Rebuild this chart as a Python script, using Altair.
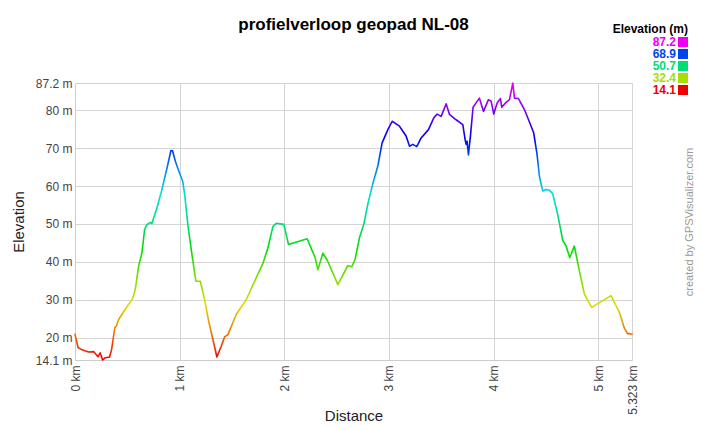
import altair as alt
import pandas as pd

FONT = "Liberation Sans"

title_text = "profielverloop geopad NL-08"
credit_text = "created by GPSVisualizer.com"
x_title = "Distance"
y_title = "Elevation"
legend_title = "Elevation (m)"

distance_km = [
    0.000, 0.029, 0.060, 0.130, 0.180, 0.200, 0.220, 0.240, 0.264, 0.290,
    0.330, 0.350, 0.380, 0.395, 0.417, 0.480, 0.550, 0.576, 0.608, 0.640,
    0.665, 0.687, 0.720, 0.735, 0.783, 0.830, 0.879, 0.917, 0.932, 0.960,
    0.997, 1.030, 1.050, 1.080, 1.120, 1.155, 1.197, 1.238, 1.277, 1.318,
    1.356, 1.397, 1.430, 1.461, 1.541, 1.636, 1.700, 1.796, 1.843, 1.891,
    1.923, 1.996, 2.040, 2.219, 2.296, 2.321, 2.369, 2.410, 2.512, 2.607,
    2.646, 2.677, 2.719, 2.760, 2.798, 2.846, 2.894, 2.935, 2.990, 3.031,
    3.101, 3.164, 3.197, 3.228, 3.266, 3.308, 3.378, 3.429, 3.461, 3.499,
    3.547, 3.579, 3.642, 3.706, 3.728, 3.738, 3.747, 3.760, 3.779, 3.804,
    3.865, 3.904, 3.951, 3.977, 4.002, 4.034, 4.066, 4.078, 4.120, 4.152,
    4.184, 4.200, 4.238, 4.295, 4.359, 4.384, 4.416, 4.438, 4.470, 4.502,
    4.534, 4.565, 4.613, 4.661, 4.693, 4.728, 4.772, 4.820, 4.868, 4.938,
    5.122, 5.202, 5.250, 5.282, 5.300, 5.323,
]
elevation_m = [
    20.9, 17.4, 16.9, 16.2, 16.3, 15.6, 15.0, 16.0, 14.1, 14.7,
    14.9, 16.9, 22.6, 23.1, 24.8, 27.5, 30.3, 32.7, 38.9, 42.4,
    48.5, 49.8, 50.4, 50.1, 54.2, 59.0, 64.7, 69.4, 69.3, 66.5,
    63.6, 61.2, 57.3, 49.4, 41.5, 34.9, 34.9, 30.1, 24.4, 19.5,
    14.9, 17.7, 20.2, 20.8, 26.1, 30.0, 33.9, 39.6, 43.6, 49.3,
    50.2, 49.9, 44.6, 46.1, 41.0, 37.9, 42.3, 40.5, 34.0, 39.0,
    38.7, 40.7, 46.4, 49.9, 55.2, 60.6, 65.3, 71.4, 74.9, 77.1,
    75.8, 73.2, 70.5, 71.0, 70.4, 72.7, 74.9, 78.0, 79.0, 78.4,
    81.7, 78.9, 77.5, 76.2, 72.3, 71.0, 71.8, 68.2, 73.2, 80.8,
    83.2, 79.7, 82.8, 82.4, 79.0, 81.9, 83.1, 80.8, 82.1, 82.8,
    87.2, 83.2, 83.1, 80.2, 75.8, 74.0, 68.3, 62.6, 58.7, 59.1,
    58.9, 58.0, 52.5, 45.7, 44.2, 41.1, 44.2, 37.6, 31.5, 28.0,
    31.1, 26.7, 22.5, 21.0, 21.1, 20.9,
]

x_ticks = [0, 1, 2, 3, 4, 5, 5.323]
y_ticks = [14.1, 20, 30, 40, 50, 60, 70, 80, 87.2]

legend_labels = ["87.2", "68.9", "50.7", "32.4", "14.1"]
legend_colors = ["#ee00ee", "#0044ee", "#00dd77", "#aadd00", "#ee0000"]

gradient_offsets = [0.0, 0.1, 0.2, 0.3, 0.4, 0.5, 0.6, 0.7, 0.8, 0.9, 1.0]
gradient_colors = ["#ee0000", "#ee7700", "#dddd00", "#77dd00", "#00dd00", "#00dd77",
                   "#00dddd", "#0077ee", "#0000ee", "#7700ee", "#ee00ee"]

profile = pd.DataFrame({"distance": distance_km, "elevation": elevation_m})
legend_df = pd.DataFrame({"label": legend_labels})
credit_df = pd.DataFrame({"text": [credit_text]})

W, H = 557, 277

label_color_expr = " : ".join(
    f"datum.label == '{l}' ? '{c}'" for l, c in zip(legend_labels, legend_colors)
) + " : '#000'"

x_enc = alt.X(
    "distance:Q",
    scale=alt.Scale(domain=[0, 5.323], nice=False, zero=False),
    axis=alt.Axis(
        values=x_ticks, labelExpr="datum.value + ' km'", labelAngle=270,
        labelAlign="right", labelBaseline="middle", labelPadding=5,
        labelFont=FONT, labelFontSize=12, labelColor="#444", labelOverlap=False,
        labelFlush=False, ticks=False, domainColor="#cccccc", gridColor="#d4d4d4",
        title=x_title, titleFont=FONT, titleFontSize=15, titleFontWeight="normal",
        titleColor="#222", titleBaseline="middle", titleY=55, titleX=W / 2,
    ),
)
y_enc = alt.Y(
    "elevation:Q",
    scale=alt.Scale(domain=[14.1, 87.2], nice=False, zero=False),
    axis=alt.Axis(
        values=y_ticks, labelExpr="datum.value + ' m'", labelPadding=3,
        labelFont=FONT, labelFontSize=12, labelColor="#444", labelOverlap=False,
        labelFlush=False, ticks=False, domainColor="#cccccc", gridColor="#d4d4d4",
        title=y_title, titleFont=FONT, titleFontSize=15, titleFontWeight="normal",
        titleColor="#222", titleAngle=270, titleBaseline="middle", titleAlign="center",
        titleX=-57, titleY=H / 2,
    ),
)

line = alt.Chart(profile).mark_line(
    strokeWidth=1.6,
    strokeJoin="round",
    strokeCap="round",
    stroke=alt.LinearGradient(
        gradient="linear", x1=0, y1=1, x2=0, y2=0,
        stops=[alt.GradientStop(offset=o, color=c) for o, c in zip(gradient_offsets, gradient_colors)],
    ),
).encode(x=x_enc, y=y_enc)

legend_layer = alt.Chart(legend_df).mark_point(
    shape="square", filled=True, clip=True, opacity=1
).encode(
    x=alt.value(-2000),
    y=alt.value(-2000),
    color=alt.Color(
        "label:N",
        scale=alt.Scale(domain=legend_labels, range=legend_colors),
        legend=alt.Legend(
            title=legend_title, orient="none", legendX=538, legendY=-59,
            titleFont=FONT, titleFontSize=12, titleFontWeight="bold", titleColor="#000",
            titleAnchor="end", titlePadding=0,
            labelFont=FONT, labelFontSize=12, labelFontWeight="bold",
            labelColor={"expr": label_color_expr},
            labelAlign="right", labelOffset={"expr": "-13"}, symbolOffset=14,
            symbolType="square", symbolSize=100, symbolStrokeWidth=0,
            symbolOpacity=1, rowPadding=0,
        ),
    ),
)

credit = alt.Chart(credit_df).mark_text(
    angle=270, font=FONT, fontSize=11, color="#999999", align="center", baseline="middle"
).encode(text="text:N", x=alt.value(W + 58), y=alt.value(139))

chart = alt.layer(line, legend_layer, credit).resolve_scale(color="independent").properties(
    width=W, height=H,
    title=alt.TitleParams(
        text=title_text, font=FONT, fontSize=17, fontWeight="bold", color="#000",
        anchor="middle", offset=-10,
    ),
    padding={"left": 67, "top": 75, "right": 63, "bottom": 62},
    autosize=alt.AutoSizeParams(type="none"),
).configure_view(strokeWidth=0)

chart.save("out.html", embed_options={"renderer": "svg", "actions": False})
